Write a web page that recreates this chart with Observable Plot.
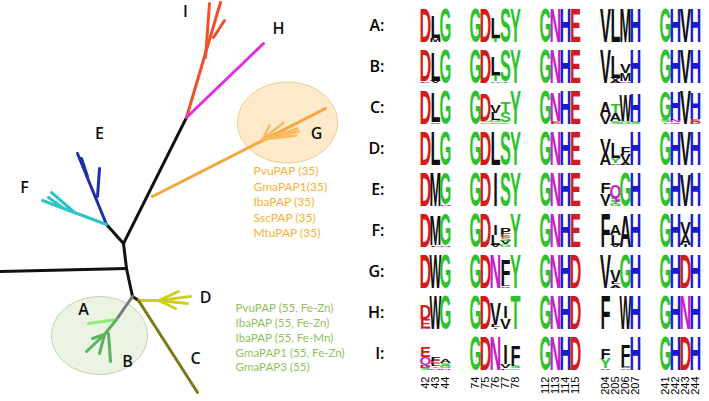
<!DOCTYPE html>
<html><head><meta charset="utf-8">
<script src="https://cdn.jsdelivr.net/npm/d3@7"></script>
<script src="https://cdn.jsdelivr.net/npm/@observablehq/plot@0.6"></script>
<style>
html,body{margin:0;padding:0;background:#fff;}
#fig{display:flex;width:709px;height:401px;overflow:hidden;background:#fff;}
#fig svg{display:block;flex:none;}
</style></head><body><div id="fig"></div>
<script>
// ================= DATA =================
// Tree nodes (drawing-space coordinates of the unrooted tree)
const nodeId = ["R","IH","Gb","Gt","EF","N1","Out","N2","AB","CD","It","I1","I1t","I2","I2t","Ht","Gf","Gf1","Gf2","Gf3","Gf4","Gf5","Et","E1","E1t","E2","E2t","Ft","F1","F1t","F2","F2t","At","Bn","B1","B2","B3","B4","Bm","Dn","D1","D2","D3","D4","Ct"];
const nodeX  = [123,186,152,325,106,126,0,132,116,138,220,205,209,213,224,263,262,297,298,296,283,269,77,97,99,87,81,42,74,51,62,48,88,104,86,99,110,92,108,158,190,187,178,175,197];
const nodeY  = [243,117,196,108,224,268,271,296,319,300,2,57,3,37,20,43,139,128,131,135,122,125,153,196,168,176,158,200,212,192,207,197,323,334,351,353,361,338,333,300,296,303,291,308,392];
// Branches: from, to, clade
const edgeFrom  = ["R","R","R","N1","N1","N2","N2","IH","I1","I2","IH","Gb","Gf","Gf","Gf","Gf","Gf","EF","E1","E2","EF","F1","F2","AB","AB","Bn","Bn","Bn","Bm","CD","Dn","Dn","Dn","Dn","CD"];
const edgeTo    = ["IH","EF","N1","Out","N2","CD","AB","It","I1t","I2t","Ht","Gt","Gf1","Gf2","Gf3","Gf4","Gf5","Et","E1t","E2t","Ft","F1t","F2t","At","Bn","B1","B2","B4","B3","Dn","D1","D2","D3","D4","Ct"];
const edgeClade = ["root","root","root","root","root","root","stem","I","I","I","H","G","Gf","Gf","Gf","Gf","Gf","E","E","E","F","F","F","A","B","B","B","B","B","D","D","D","D","D","C"];
const cladeKeys   = ["root","stem","I","H","G","Gf","E","F","A","B","C","D"];
const cladeColors = ["#111111","#7a7a7a","#f0502a","#e22ee2","#f7a43a","#fbb95e","#1f2fa8","#2fc3c6","#8eec78","#5cb35c","#7b7b16","#cfcf22"];

// Clade letters on the tree
const cladeLabel = ["I","H","G","E","F","D","A","B","C"];
const cladeLabelX = [185,278,316,99,24,205,83,127,195];
const cladeLabelY = [11,28,133,133,187,297,309,361,358];

// Highlighted groups (ellipses)
const groupX = [287,99];
const groupY = [122,335];
const groupR = [50,48];
const groupFill = ["#fbe3b9","#e4efda"];
const groupStroke = ["#f5c98a","#bcd5aa"];

// Enzyme lists
const gNames  = ["PvuPAP (35)","GmaPAP1(35)","IbaPAP (35)","SscPAP (35)","MtuPAP (35)"];
const abNames = ["PvuPAP (55, Fe-Zn)","IbaPAP (55, Fe-Zn)","IbaPAP (55, Fe-Mn)","GmaPAP1 (55, Fe-Zn)","GmaPAP3 (55)"];

// Sequence logos
const rows = ["A","B","C","D","E","F","G","H","I"];
const positions = [[42,43,44],[74,75,76,77,78],[112,113,114,115],[204,205,206,207],[241,242,243,244]];
// each column: letters from top to bottom with relative height (default 1)
const logoA = ["D","L.68 M.1","G", "G","D","L.62 T.12","S","Y", "G","N","H","E", "V","L","M","H", "G","H","V","H"];
const logoB = ["D.93 E.05","L.88 V.06","G", "G","D","L.55 T.2 A.04","S.94 T.04","Y", "G","N","H","E", "V","L.65 V.08 A.07","V.28 M.25 N.05","H", "G","H","V","H"];
const logoC = ["D","L.9 V.05","G", "G","D.82 S.05 G.04","V.22 L.22 G.06 S.05","T.32 S.32 G.05","Y", "G","N.85 E.07","H","E", "A.4 V.28","T.28 A.25 S.08","W.78 G.08","H.86 S.06", "G.88 S.06 T.04","H.85 N.06 Q.04","V","H.8 E.08 D.06"];
const logoD = ["D","L","G", "G","D","L","S","Y", "G","N","H","E", "V.45 A.33","L.45 Y.15 V.05","F.22 V.22 A.08","H", "G","H","V","H"];
const logoE = ["D","M","G.95 N.04", "G","D","I","S","Y", "G","N","H","E", "F.3 V.32 I.06","Q.38 S.1 T.08 G.06","G","H", "G","H","V.95","H"];
const logoF = ["D","M.92 L.05","G.93 N.05", "G","D","I.32 L.3 V.06","P.2 E.1 S.12 V.1 G.08","Y", "G","N","H","E", "F","A.32 L.3 V.06","A.95","H", "G","H","V.38 A.3 I.06","H"];
const logoG = ["D","W","G", "G","D","N","F.74 L.06 V.05","Y", "G","N","H","D", "V","V.36 L.07 I.05 A.06","G","H", "G","H","D","H"];
const logoH = ["D.42 E.28 Q.03","W","G", "G","D","V.68 L.06 I.04","I.35 V.32","T", "G","N","H","D", "F","","W","H", "G","H","N","H"];
const logoI = ["E.32 Q.24 D.08 S.06","F.13 E.1 L.06 T.05 N.05","A.12 S.08 G.06 N.05", "G","D","N","I.58 V.12 L.04","F.62 S.06 G.04", "G","N","H","D", "F.32 Y.3 V.04","","F.6 L.08 V.05 A.04","H", "G","H","D","H"];
const logoRows = [logoA, logoB, logoC, logoD, logoE, logoF, logoG, logoH, logoI];

// residue colour classes
const acidic = "DE", polar = "GSTYC", amide = "NQ", basic = "HKR";
const colAcidic = "#d41a1a", colPolar = "#2cc22c", colAmide = "#c620c6", colBasic = "#1a1acf", colHydro = "#111111";

// ================= BUILD =================
const pt = Object.fromEntries(nodeId.map((id, i) => [id, [nodeX[i], nodeY[i]]]));
const cCol = Object.fromEntries(cladeKeys.map((k, i) => [k, cladeColors[i]]));
const edges = edgeFrom.map((f, i) => ({x1: pt[f][0], y1: pt[f][1], x2: pt[edgeTo[i]][0], y2: pt[edgeTo[i]][1], clade: edgeClade[i]}));
const labels = cladeLabel.map((t, i) => ({t, x: cladeLabelX[i], y: cladeLabelY[i]}));
const groups = groupX.map((x, i) => ({x, y: groupY[i], fill: groupFill[i], stroke: groupStroke[i]}));
const gList = gNames.map((t, i) => ({t, i}));
const abList = abNames.map((t, i) => ({t, i}));

const ellipseSymbol = {draw(ctx, size) {
  const r = Math.sqrt(size / Math.PI), rx = r, ry = r * 0.81, k = 0.5523;
  ctx.moveTo(rx, 0);
  ctx.bezierCurveTo(rx, ry * k, rx * k, ry, 0, ry);
  ctx.bezierCurveTo(-rx * k, ry, -rx, ry * k, -rx, 0);
  ctx.bezierCurveTo(-rx, -ry * k, -rx * k, -ry, 0, -ry);
  ctx.bezierCurveTo(rx * k, -ry, rx, -ry * k, rx, 0);
  ctx.closePath();
}};

const groupMarks = groups.map((g, i) => Plot.dot([g], {x: "x", y: "y", r: groupR[i], fill: "fill", stroke: "stroke",
  fillOpacity: 0.75, strokeWidth: 1, symbol: ellipseSymbol}));

const tree = Plot.plot({
  width: 350, height: 401, margin: 0,
  style: {overflow: "visible"},
  x: {domain: [0, 350], range: [0, 350], axis: null},
  y: {domain: [0, 401], range: [0, 401], axis: null},
  marks: [
    ...groupMarks,
    Plot.link(edges, {x1: "x1", y1: "y1", x2: "x2", y2: "y2", stroke: d => cCol[d.clade],
      strokeWidth: d => (d.clade === "Gf" ? 2.4 : 3), strokeLinecap: "round"}),
    Plot.text(labels, {x: "x", y: "y", text: "t", fontSize: 16, fontWeight: 600, fontFamily: "Open Sans", fill: "#111"}),
    Plot.text(gList, {x: () => 253, y: d => 171 + d.i * 15.4, text: "t", textAnchor: "start", fontSize: 12, fontFamily: "Lato", fill: "#f8b135"}),
    Plot.text(abList, {x: () => 235, y: d => 308 + d.i * 14.8, text: "t", textAnchor: "start", fontSize: 11.6, fontFamily: "Lato", fill: "#8fc25a"})
  ]
});

// --- logos ---
const slots = [];
positions.forEach((g, gi) => {
  if (gi > 0) slots.push("gap" + gi + "a", "gap" + gi + "b");
  g.forEach(p => slots.push(String(p)));
});
const colPos = positions.flat().map(String);
const letters = [];
rows.forEach((row, ri) => {
  logoRows[ri].forEach((col, ci) => {
    const toks = col.trim().split(/\s+/).filter(Boolean).map(t => ({letter: t[0], h: t.length > 1 ? +t.slice(1) : 1}));
    let y0 = 0;
    toks.reverse().forEach(t => { letters.push({row, pos: colPos[ci], letter: t.letter, h: t.h, y0}); y0 += t.h; });
  });
});
const colorOf = L => acidic.includes(L) ? colAcidic : polar.includes(L) ? colPolar : amide.includes(L) ? colAmide : basic.includes(L) ? colBasic : colHydro;

const H = 401, MT = 5, MB = 28.6, PADI = 0.21;
const step = (H - MT - MB) / (rows.length - PADI);
const ROW_H = step * (1 - PADI);
const ctx = document.createElement("canvas").getContext("2d");
ctx.font = "bold 100px 'Liberation Sans'";
const capRatio = (ctx.measureText("H").actualBoundingBoxAscent || 72) / 100;

const logo = Plot.plot({
  width: 359, height: H, marginLeft: 60, marginRight: 0, marginTop: MT, marginBottom: MB,
  style: {fontFamily: "Liberation Sans", background: "#fff"},
  x: {type: "band", domain: slots, padding: 0, axis: null},
  y: {domain: [0, 1], axis: null},
  fy: {domain: rows, paddingInner: PADI, paddingOuter: 0, axis: null},
  marks: [
    Plot.text(letters, {x: "pos", y: "y0", fy: "row", text: "letter", fill: d => colorOf(d.letter),
      fontSize: d => d.h * ROW_H / capRatio, lineAnchor: "bottom", textAnchor: "middle",
      fontFamily: "Liberation Sans", fontWeight: "bold"}),
    Plot.axisFy({anchor: "left", tickSize: 0, tickPadding: 26, tickFormat: d => d + ":", fontSize: 16, fontWeight: 600, fontFamily: "Open Sans", label: null}),
    Plot.axisX({anchor: "bottom", ticks: colPos, tickRotate: -90, tickSize: 0, tickPadding: 7, fontSize: 11, label: null})
  ]
});

document.getElementById("fig").append(tree, logo);

// squeeze logo glyphs horizontally into their columns
logo.querySelectorAll('g[aria-label="text"] text').forEach(el => {
  const fs = parseFloat(el.getAttribute("font-size")) || parseFloat(getComputedStyle(el).fontSize);
  const w = el.getComputedTextLength();
  const sx = 11.8 / Math.max(w, 0.72 * fs);
  const t = el.getAttribute("transform");
  if (t) el.setAttribute("transform", t + ` scale(${sx},1)`);
  else {
    const x = +el.getAttribute("x") || 0, y = +el.getAttribute("y") || 0;
    el.setAttribute("transform", `translate(${x},${y}) scale(${sx},1) translate(${-x},${-y})`);
  }
});
</script></body></html>
